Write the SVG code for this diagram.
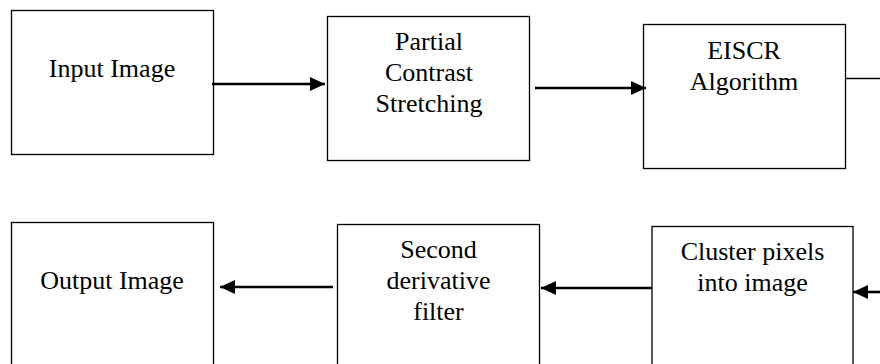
<svg xmlns="http://www.w3.org/2000/svg" width="880" height="364" viewBox="0 0 880 364">
<style>
.box{fill:#fff;stroke:#000;stroke-width:1.3}
.t{font-family:"Liberation Serif","Times New Roman",serif;font-size:26px;fill:#000;text-anchor:middle}
.c{stroke:#000;stroke-width:2.6;fill:none}
.thin{stroke:#000;stroke-width:1.3;fill:none}
</style>
<defs>
<marker id="ah" markerUnits="userSpaceOnUse" markerWidth="16" markerHeight="14" refX="15" refY="7" orient="auto">
<path d="M0,0 L15,7 L0,14 Z" fill="#000"/>
</marker>
</defs>
<rect width="880" height="364" fill="#fff"/>
<g id="input-image"><rect class="box" x="11.5" y="10.5" width="202" height="144"/><text class="t" x="112" y="77">Input Image</text></g>
<g id="partial-contrast"><rect class="box" x="327.5" y="16.5" width="202" height="144"/><text class="t" x="429" y="50">Partial</text><text class="t" x="429" y="81">Contrast</text><text class="t" x="429" y="112">Stretching</text></g>
<g id="eiscr"><rect class="box" x="643.5" y="24.5" width="202" height="144"/><text class="t" x="744" y="59">EISCR</text><text class="t" x="744" y="90">Algorithm</text></g>
<g id="output-image"><rect class="box" x="11.5" y="222.5" width="202" height="160"/><text class="t" x="112" y="289">Output Image</text></g>
<g id="second-derivative"><rect class="box" x="337.5" y="224.5" width="202" height="160"/><text class="t" x="438.5" y="258">Second</text><text class="t" x="438.5" y="289">derivative</text><text class="t" x="438.5" y="320">filter</text></g>
<g id="cluster-pixels"><rect class="box" x="652" y="226.5" width="201" height="160"/><text class="t" x="752.5" y="260">Cluster pixels</text><text class="t" x="752.5" y="291">into image</text></g>
<g id="connectors">
<line class="c" x1="212" y1="84" x2="325" y2="84" marker-end="url(#ah)"/>
<line class="c" x1="535" y1="88" x2="646" y2="88" marker-end="url(#ah)"/>
<line class="thin" x1="845" y1="78.5" x2="880" y2="78.5"/>
<line class="c" x1="880" y1="292" x2="853" y2="292" marker-end="url(#ah)"/>
<line class="c" x1="652" y1="288" x2="541" y2="288" marker-end="url(#ah)"/>
<line class="c" x1="333" y1="287" x2="220" y2="287" marker-end="url(#ah)"/>
</g>
</svg>
